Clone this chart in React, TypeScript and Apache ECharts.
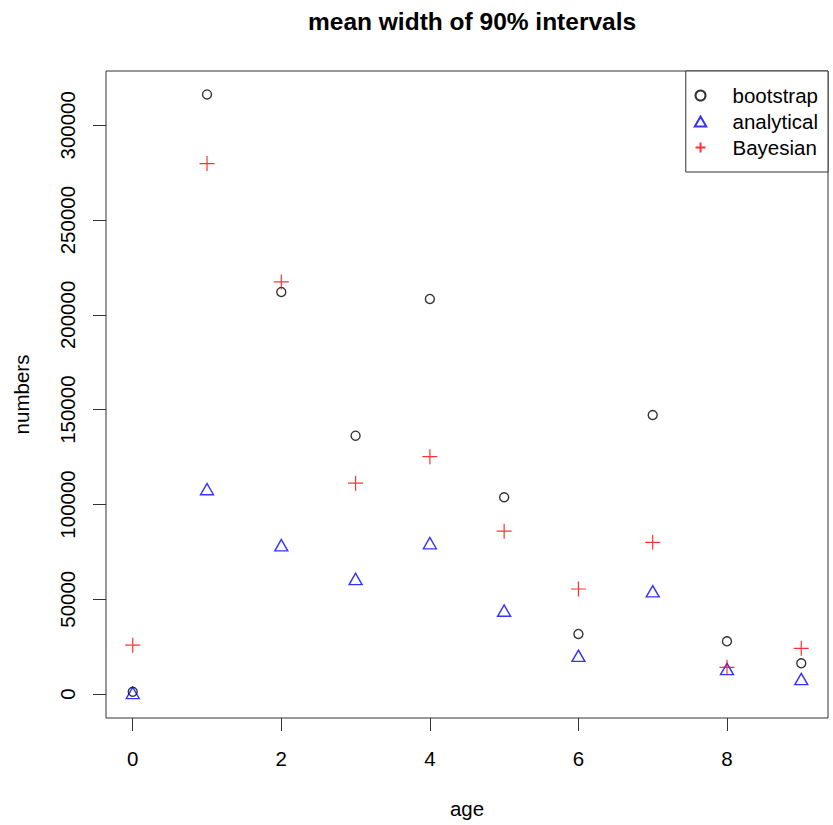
import React, { useEffect, useRef } from "react";
import * as echarts from "echarts";

const ages = [0, 1, 2, 3, 4, 5, 6, 7, 8, 9];
const bootstrap = [1200, 316300, 212100, 136300, 208400, 103800, 31700, 147200, 27800, 16200];
const analytical = [600, 108100, 78500, 60700, 79600, 44000, 20200, 54200, 13200, 7900];
const bayesian = [25800, 279800, 217400, 111200, 125200, 85900, 55400, 80000, 14100, 24100];
const xTicks = [0, 2, 4, 6, 8];
const yTicks = [0, 50000, 100000, 150000, 200000, 250000, 300000];

const FONT = "Liberation Sans";
const FS = 20.5;

export default function App() {
  const ref = useRef<HTMLDivElement>(null);
  useEffect(() => {
    if (!ref.current) return;
    const chart = echarts.init(ref.current, null, { renderer: "svg" });
    const pts = (vals: number[]) => ages.map((a, i) => [a, vals[i]]);
    chart.setOption({
      animation: false,
      backgroundColor: "#ffffff",
      textStyle: { fontFamily: FONT },
      title: {
        text: "mean width of 90% intervals",
        left: 303,
        top: 4,
        textStyle: { fontFamily: FONT, fontWeight: "bold", fontSize: 24.5, color: "#000" },
      },
      grid: {
        left: 106,
        top: 71,
        width: 722,
        height: 647,
        show: true,
        borderColor: "#333",
        borderWidth: 1,
        backgroundColor: "transparent",
      },
      legend: {
        orient: "vertical",
        right: 5,
        top: 71,
        padding: [14, 10, 14, 8],
        itemGap: 5,
        itemWidth: 20,
        itemHeight: 10,
        borderColor: "#333",
        borderWidth: 1,
        borderRadius: 0,
        backgroundColor: "#fff",
        textStyle: { fontFamily: FONT, fontSize: FS, color: "#000", padding: [0, 0, 0, 17] },
        data: ["bootstrap", "analytical", "Bayesian"],
      },
      xAxis: {
        type: "value",
        min: -0.36,
        max: 9.36,
        name: "age",
        nameLocation: "middle",
        nameGap: 80,
        nameTextStyle: { fontFamily: FONT, fontSize: FS, color: "#000" },
        axisLine: { show: false, onZero: false },
        splitLine: { show: false },
        axisTick: { show: true, length: 13, customValues: xTicks, lineStyle: { color: "#333" } },
        axisLabel: {
          customValues: xTicks,
          margin: 30,
          fontFamily: FONT,
          fontSize: FS,
          color: "#000",
          formatter: (v: number) => String(v),
        },
      },
      yAxis: {
        type: "value",
        min: -12640,
        max: 328640,
        name: "numbers",
        nameLocation: "middle",
        nameGap: 74,
        nameTextStyle: { fontFamily: FONT, fontSize: FS, color: "#000" },
        axisLine: { show: false, onZero: false },
        splitLine: { show: false },
        axisTick: { show: true, length: 13, customValues: yTicks, lineStyle: { color: "#333" } },
        axisLabel: {
          customValues: yTicks,
          rotate: 90,
          margin: 28,
          fontFamily: FONT,
          fontSize: FS,
          color: "#000",
          formatter: (v: number) => String(v),
        },
      },
      series: [
        {
          name: "bootstrap",
          type: "scatter",
          data: pts(bootstrap),
          symbol: "circle",
          symbolSize: 9,
          itemStyle: { color: "rgba(0,0,0,0)", borderColor: "#000", borderWidth: 1.4 },
        },
        {
          name: "analytical",
          type: "scatter",
          data: pts(analytical),
          symbol: "path://M6.5,0 L13,11.3 L0,11.3 Z",
          symbolSize: [13, 11.3],
          itemStyle: { color: "rgba(0,0,0,0)", borderColor: "#0000ff", borderWidth: 1.4 },
        },
        {
          name: "Bayesian",
          type: "scatter",
          data: pts(bayesian),
          symbol: "path://M0,7 L14,7 M7,0 L7,14",
          symbolSize: 15,
          itemStyle: { color: "rgba(0,0,0,0)", borderColor: "#ff0000", borderWidth: 1.2 },
        },
      ],
    });
    return () => chart.dispose();
  }, []);
  return (
    <div
      ref={ref}
      style={{ position: "fixed", left: 0, top: 0, width: 833, height: 825, background: "#fff" }}
    />
  );
}
